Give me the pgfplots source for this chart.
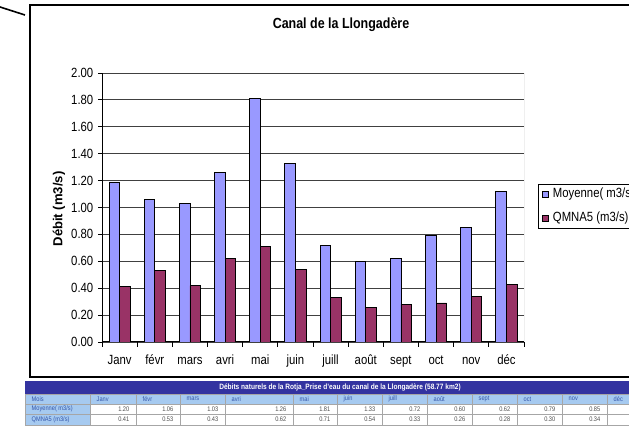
\documentclass[border=0pt]{standalone}
\usepackage{pgfplots}
\pgfplotsset{compat=1.18}
\usepackage{fontspec}
\setmainfont{Liberation Sans}[FakeStretch=0.85]
\newfontfamily\plainsans{Liberation Sans}
\definecolor{moyblue}{HTML}{9999FF}
\definecolor{qmred}{HTML}{993366}
\definecolor{hdrblue}{HTML}{3333A0}
\definecolor{cellblue}{HTML}{A6CAF0}
\definecolor{txtblue}{HTML}{3355AA}
\begin{document}
\begin{tikzpicture}[x=0.75pt,y=0.75pt]
% chart frame and corner line
\draw[line width=0.8pt] (30,51) rectangle (680,423);
\draw[line width=1.2pt] (0,421) -- (25,413);
\node[font=\fontsize{11}{13}\selectfont\bfseries] at (341,403) {Canal de la Llongadère};
\node[rotate=90, font=\plainsans\fontsize{9.8}{12}\selectfont\bfseries] at (59,219) {Débit (m3/s)};
\begin{axis}[
  at={(76.5pt,64.5pt)}, anchor=south west,
  width=316.5pt, height=201.75pt, scale only axis,
  ybar=0pt, bar width=7.9pt,
  xmin=-0.5, xmax=11.5, ymin=0, ymax=2,
  xtick={0,1,2,3,4,5,6,7,8,9,10,11},
  xticklabels={Janv,févr,mars,avri,mai,juin,juill,août,sept,oct,nov,déc},
  minor xtick={-0.5,0.5,1.5,2.5,3.5,4.5,5.5,6.5,7.5,8.5,9.5,10.5,11.5},
  ytick={0,0.2,0.4,0.6,0.8,1.0,1.2,1.4,1.6,1.8,2.0},
  yticklabel style={/pgf/number format/.cd, fixed, fixed zerofill, precision=2},
  xticklabel style={text height=7.2pt, text depth=2pt, yshift=-3pt},
  /pgf/number format/assume math mode=true,
  tick label style={font=\fontsize{10}{12}\selectfont},
  axis x line*=bottom, axis y line*=left,
  axis line style={-, black, line width=0.75pt},
  tick align=outside, major tick length=3pt, minor tick length=3.5pt,
  major x tick style={draw=none},
  minor x tick style={black, line width=0.6pt},
  major y tick style={black, line width=0.6pt},
  ymajorgrids, major y grid style={black!75, line width=0.6pt},
  legend style={at={(1.033,0.587)}, anchor=north west, draw=black, line width=0.75pt,
    font=\fontsize{10}{12}\selectfont, inner xsep=3pt, inner ysep=3pt, row sep=9pt,
    nodes={inner sep=0pt, text height=7pt, text depth=2pt},
    /tikz/every odd column/.append style={column sep=3pt}},
  legend cell align=left,
  legend image code/.code={\draw[#1, line width=0.4pt] (0pt,-2.25pt) rectangle (4.5pt,2.25pt);},
]
\addplot[fill=moyblue, draw=black, line width=0.6pt] coordinates {
  (0,1.19) (1,1.06) (2,1.03) (3,1.26) (4,1.81) (5,1.33)
  (6,0.72) (7,0.60) (8,0.62) (9,0.79) (10,0.85) (11,1.12)};
\addplot[fill=qmred, draw=black, line width=0.6pt] coordinates {
  (0,0.41) (1,0.53) (2,0.42) (3,0.62) (4,0.71) (5,0.54)
  (6,0.33) (7,0.26) (8,0.28) (9,0.29) (10,0.34) (11,0.43)};
\legend{Moyenne( m3/s),QMNA5 (m3/s)}
\draw[gray, line width=0.6pt] (rel axis cs:1,0) -- (rel axis cs:1,1);
\end{axis}
% data table below the chart
\fill[hdrblue] (25,34) rectangle (680,47);
\fill[cellblue] (25,24) rectangle (680,34);
\fill[cellblue] (25,3) rectangle (90,24);
\foreach \yy in {34,24,14,3} \draw[gray!70, line width=0.4pt] (25,\yy) -- (680,\yy);
\foreach \xx in {25,90,136,180,225,293,337,382,427,472,517,562,607}
  \draw[gray!70, line width=0.4pt] (\xx,3) -- (\xx,34);
\node[white, font=\bfseries\fontsize{5.8}{7}\selectfont] at (340,40.5)
  {Débits naturels de la Rotja\_Prise d'eau du canal de la Llongadère (58.77 km2)};
\node[anchor=west, txtblue, font=\fontsize{5}{6}\selectfont] at (27,29) {Mois};
\node[anchor=west, txtblue, font=\fontsize{5}{6}\selectfont] at (27,19) {Moyenne( m3/s)};
\node[anchor=west, txtblue, font=\fontsize{5}{6}\selectfont] at (27,8.5) {QMNA5 (m3/s)};
\node[anchor=west, txtblue, font=\fontsize{5}{6}\selectfont] at (609,29) {déc};
\foreach \xl/\xr/\m/\a/\b in {90/136/Janv/1.20/0.41, 136/180/févr/1.06/0.53,
  180/225/mars/1.03/0.43, 225/293/avri/1.26/0.62, 293/337/mai/1.81/0.71,
  337/382/juin/1.33/0.54, 382/427/juill/0.72/0.33, 427/472/août/0.60/0.26,
  472/517/sept/0.62/0.28, 517/562/oct/0.79/0.30, 562/607/nov/0.85/0.34} {
  \node[anchor=west, txtblue, font=\fontsize{5}{6}\selectfont] at (\xl+2,29) {\m};
  \node[anchor=east, black!70, font=\fontsize{5}{6}\selectfont] at (\xr-2,19) {\a};
  \node[anchor=east, black!70, font=\fontsize{5}{6}\selectfont] at (\xr-2,8.5) {\b};
}
\pgfresetboundingbox
\path[use as bounding box] (0,0) rectangle (629,428);
\end{tikzpicture}
\end{document}
